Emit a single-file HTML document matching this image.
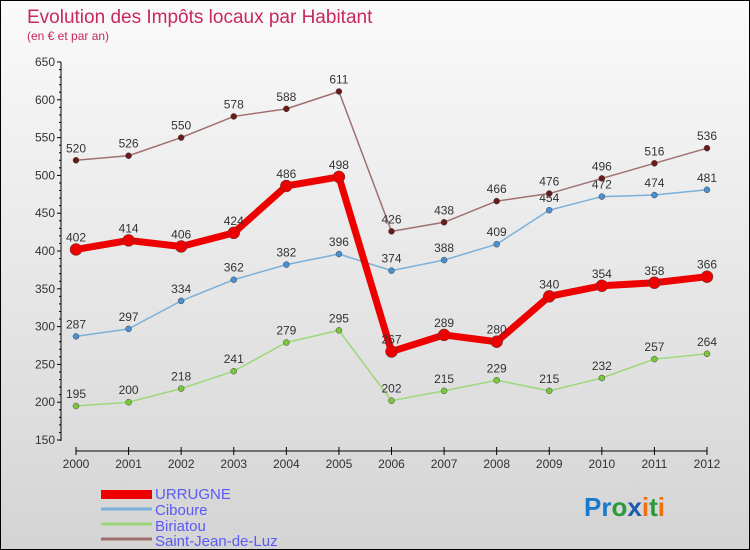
<!DOCTYPE html>
<html><head><meta charset="utf-8"><style>
body{margin:0;}
#c{width:750px;height:550px;position:relative;overflow:hidden;box-sizing:border-box;border:1px solid #000;background:linear-gradient(#fafafa,#d4d4d4);font-family:"Liberation Sans",sans-serif;}
</style></head><body>
<div id="c">
<svg id="s" width="750" height="550" style="position:absolute;left:0;top:0">
<text x="26" y="22" font-size="19" fill="#c8285a">Evolution des Impôts locaux par Habitant</text>
<text x="26" y="39" font-size="12" fill="#c8285a">(en € et par an)</text>
<line x1="60" y1="61" x2="60" y2="440" stroke="#000"/>
<line x1="75" y1="450" x2="706" y2="450" stroke="#000"/>
<g id="g"></g>
<rect x="100" y="489" width="51" height="9" fill="#e00"/>
<text x="154" y="498" font-size="15" fill="#5a5af5">URRUGNE</text>
<line x1="100" y1="508" x2="151" y2="508" stroke="#7ab0d8" stroke-width="3"/>
<text x="154" y="514" font-size="15" fill="#5a5af5">Ciboure</text>
<line x1="100" y1="523" x2="151" y2="523" stroke="#9cd87a" stroke-width="3"/>
<text x="154" y="530" font-size="15" fill="#5a5af5">Biriatou</text>
<line x1="100" y1="538" x2="151" y2="538" stroke="#a07070" stroke-width="3"/>
<text x="154" y="545" font-size="15" fill="#5a5af5">Saint-Jean-de-Luz</text>
<text x="583" y="515" font-size="26" font-weight="bold"><tspan fill="#1a7ad0">Pr</tspan><tspan fill="#2a9a3a">o</tspan><tspan fill="#1a5ab0">x</tspan><tspan fill="#f07010">i</tspan><tspan fill="#2a9a3a">t</tspan><tspan fill="#f07010">i</tspan></text>
</svg>
</div>
<script>
const years=[2000,2001,2002,2003,2004,2005,2006,2007,2008,2009,2010,2011,2012];
const urrugne=[402,414,406,424,486,498,267,289,280,340,354,358,366];
const ciboure=[287,297,334,362,382,396,374,388,409,454,472,474,481];
const biriatou=[195,200,218,241,279,295,202,215,229,215,232,257,264];
const sjdl=[520,526,550,578,588,611,426,438,466,476,496,516,536];
const yTicks=[150,200,250,300,350,400,450,500,550,600,650];
const NS="http://www.w3.org/2000/svg";
const g=document.getElementById('g');
function X(i){return 75+i*(706-75)/(years.length-1);}
function Y(v){return 439-(v-150)*378/500;}
function mk(t,a){const e=document.createElementNS(NS,t);for(const k in a)e.setAttribute(k,a[k]);g.appendChild(e);return e;}
yTicks.forEach(v=>{
 const t=mk('line',{x1:56,x2:60,y1:Y(v),y2:Y(v),stroke:'#000'});
 
 
 const l=mk('text',{x:54,y:Y(v)+4,'font-size':12,fill:'#333','text-anchor':'end'});
 l.textContent=v;
 
 
});
for(let v=160;v<650;v+=10){if(v%50){const t=mk('line',{x1:58,x2:60,y1:Y(v),y2:Y(v),stroke:'#000'});
 
 }}
years.forEach((y,i)=>{
 const t=mk('line',{x1:X(i),x2:X(i),y1:446,y2:454,stroke:'#000'});
 
 
 const l=mk('text',{x:X(i),y:467,'font-size':12,fill:'#333','text-anchor':'middle'});
 l.textContent=y;
 
 
});
function series(d,name,col,dot,w,r){
 const p=mk('polyline',{points:d.map((v,i)=>X(i)+','+Y(v)).join(' '),fill:'none',stroke:col,'stroke-width':w,'stroke-linejoin':'round'});
 
 
 d.forEach((v,i)=>{
  const c=mk('circle',{cx:X(i),cy:Y(v),r:r,fill:dot,stroke:'#444','stroke-width':0.5});
  
  
  const t=mk('text',{x:X(i),y:Y(v)-8,'font-size':12,fill:'#333','text-anchor':'middle'});
  t.textContent=v;
  
  
 });
}
series(biriatou,'biriatou','#9cd87a','#7ac83a',1.5,3);
series(ciboure,'ciboure','#7ab0d8','#4a90d0',1.5,3);
series(sjdl,'saint-jean-de-luz','#a07070','#6a1a1a',1.5,3);
series(urrugne,'urrugne','#ee0000','#ee0000',7,6);
</script>
</body></html>
